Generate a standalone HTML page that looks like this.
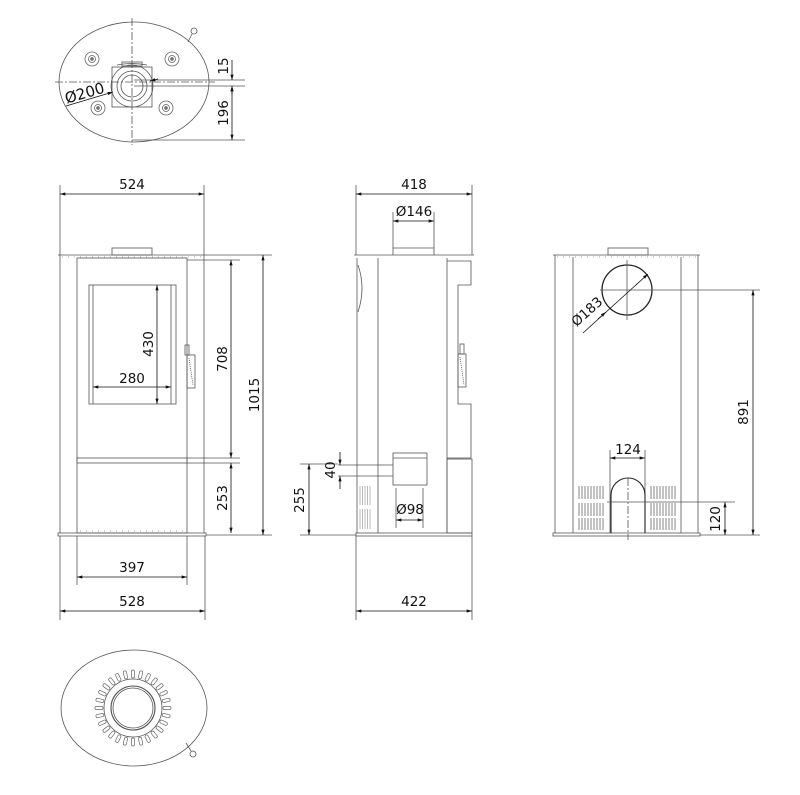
<!DOCTYPE html>
<html><head><meta charset="utf-8"><style>
html,body{margin:0;padding:0;background:#fff}
svg{display:block}
text{font-family:"DejaVu Sans","Liberation Sans",sans-serif;font-size:13.5px;fill:#111}
</style></head><body>
<svg width="800" height="795" viewBox="0 0 800 795" xmlns="http://www.w3.org/2000/svg">
<defs>
<marker id="a" viewBox="0 0 10 6" refX="10" refY="3" markerWidth="8" markerHeight="4" orient="auto-start-reverse"><path d="M0,0L10,3L0,6z" fill="#111"/></marker>
<rect id="slot" x="-1.6" y="-38" width="3.2" height="8" rx="1.6" fill="none" stroke="#666" stroke-width="0.7"/>
<g id="bolt"><circle r="7" fill="none" stroke="#666" stroke-width="0.8"/><circle r="3.5" fill="none" stroke="#666" stroke-width="0.8"/><circle r="1.3" fill="#888"/></g>
</defs>
<g fill="none" stroke="#555" stroke-width="0.8">

<!-- TOP VIEW -->
<ellipse cx="134" cy="82" rx="75" ry="60"/>
<line x1="188" y1="42" x2="192" y2="34"/><circle cx="194" cy="31" r="3"/>
<line x1="132" y1="18" x2="132" y2="145" stroke-dasharray="8,2,2,2"/>
<line x1="55" y1="82" x2="215" y2="82" stroke-dasharray="8,2,2,2"/>
<rect x="112" y="67" width="40" height="40"/>
<circle cx="132" cy="86" r="21"/><circle cx="132" cy="86" r="15"/><circle cx="132" cy="86" r="11"/>
<path d="M117,65 a30,10 0 0 1 30,0" />
<rect x="122" y="62" width="20" height="4"/>
<use href="#bolt" x="92" y="59"/><use href="#bolt" x="172" y="59"/>
<use href="#bolt" x="98" y="108"/><use href="#bolt" x="166" y="108"/>
<line x1="134" y1="80" x2="245" y2="80"/><line x1="134" y1="86" x2="245" y2="86"/>
<line x1="132" y1="140" x2="245" y2="140"/>
<line x1="232" y1="60" x2="232" y2="80" stroke="#111" marker-end="url(#a)"/>
<line x1="232" y1="86" x2="232" y2="94" stroke="#111" marker-start="url(#a)"/>
<line x1="232" y1="86" x2="232" y2="140" stroke="#111" marker-start="url(#a)" marker-end="url(#a)"/>
<line x1="66" y1="106" x2="113" y2="92" stroke="#111" marker-end="url(#a)"/>
<line x1="150" y1="81" x2="158" y2="79" stroke="#111" marker-start="url(#a)"/>

<!-- FRONT VIEW -->
<line x1="60" y1="185" x2="60" y2="255"/><line x1="204" y1="185" x2="204" y2="255"/>
<line x1="60" y1="194" x2="204" y2="194" stroke="#111" marker-start="url(#a)" marker-end="url(#a)"/>
<rect x="112" y="248" width="40" height="7"/>
<line x1="58" y1="255" x2="206" y2="255"/>
<line x1="62" y1="257" x2="202" y2="257" stroke-dasharray="1,5" stroke="#888"/>
<line x1="60" y1="255" x2="60" y2="533"/><line x1="204" y1="255" x2="204" y2="533"/>
<rect x="77" y="258" width="110" height="275"/>
<rect x="89" y="285" width="87" height="119"/>
<line x1="93" y1="285" x2="93" y2="404"/><line x1="171" y1="285" x2="171" y2="404"/>
<rect x="77" y="458" width="110" height="5"/>
<rect x="58" y="533" width="148" height="3"/>
<line x1="80" y1="531" x2="185" y2="531" stroke-dasharray="1,5" stroke="#888"/>
<rect x="185" y="345" width="4" height="10"/><rect x="187" y="355" width="8" height="33"/>
<line x1="189" y1="358" x2="193" y2="385" stroke-dasharray="1,1"/>
<line x1="157" y1="285" x2="157" y2="404" stroke="#111" marker-start="url(#a)" marker-end="url(#a)"/>
<line x1="93" y1="387" x2="171" y2="387" stroke="#111" marker-start="url(#a)" marker-end="url(#a)"/>
<line x1="187" y1="260" x2="240" y2="260"/><line x1="187" y1="458" x2="240" y2="458"/>
<line x1="187" y1="463" x2="240" y2="463"/><line x1="206" y1="535" x2="272" y2="535"/>
<line x1="206" y1="255" x2="272" y2="255"/>
<line x1="231" y1="260" x2="231" y2="458" stroke="#111" marker-start="url(#a)" marker-end="url(#a)"/>
<line x1="231" y1="463" x2="231" y2="533" stroke="#111" marker-start="url(#a)" marker-end="url(#a)"/>
<line x1="263" y1="255" x2="263" y2="535" stroke="#111" marker-start="url(#a)" marker-end="url(#a)"/>
<line x1="77" y1="536" x2="77" y2="585"/><line x1="187" y1="536" x2="187" y2="585"/>
<line x1="77" y1="577" x2="187" y2="577" stroke="#111" marker-start="url(#a)" marker-end="url(#a)"/>
<line x1="60" y1="536" x2="60" y2="620"/><line x1="205" y1="536" x2="205" y2="620"/>
<line x1="60" y1="611" x2="205" y2="611" stroke="#111" marker-start="url(#a)" marker-end="url(#a)"/>

<!-- SIDE VIEW -->
<line x1="356" y1="185" x2="356" y2="255"/><line x1="472" y1="185" x2="472" y2="255"/>
<line x1="356" y1="194" x2="472" y2="194" stroke="#111" marker-start="url(#a)" marker-end="url(#a)"/>
<line x1="393" y1="212" x2="393" y2="255"/><line x1="434" y1="212" x2="434" y2="255"/>
<line x1="393" y1="221" x2="434" y2="221" stroke="#111" marker-start="url(#a)" marker-end="url(#a)"/>
<line x1="393" y1="248" x2="434" y2="248"/>
<line x1="354" y1="255" x2="474" y2="255"/>
<line x1="357" y1="258" x2="357" y2="533"/>
<path d="M358,265 Q366,288 358,312"/>
<line x1="378" y1="258" x2="378" y2="533"/><line x1="447" y1="258" x2="447" y2="533"/>
<path d="M447,261 H471 V285 H458 V404 H471 V458 H447"/>
<rect x="447" y="459" width="25" height="74"/>
<rect x="460" y="344" width="4" height="10"/><rect x="458" y="354" width="8" height="33"/>
<line x1="460" y1="357" x2="464" y2="385" stroke-dasharray="1,1"/>
<rect x="393" y="453" width="34" height="32"/><line x1="393" y1="458" x2="427" y2="458"/>
<g stroke="#777" stroke-width="0.5"><path d="M360,486v19M362.5,486v19M365,486v19M367.5,486v19M370,486v19M360,509v20M362.5,509v20M365,509v20M367.5,509v20M370,509v20"/></g>
<rect x="356" y="533" width="116" height="3"/>
<line x1="338" y1="465" x2="393" y2="465"/><line x1="338" y1="476" x2="393" y2="476"/>
<line x1="340" y1="452" x2="340" y2="465" stroke="#111" marker-end="url(#a)"/>
<line x1="340" y1="489" x2="340" y2="476" stroke="#111" marker-end="url(#a)"/>
<line x1="300" y1="464" x2="338" y2="464"/><line x1="300" y1="535" x2="356" y2="535"/>
<line x1="309" y1="464" x2="309" y2="535" stroke="#111" marker-start="url(#a)" marker-end="url(#a)"/>
<line x1="396" y1="488" x2="396" y2="528"/><line x1="423" y1="488" x2="423" y2="528"/>
<line x1="396" y1="520" x2="423" y2="520" stroke="#111" marker-start="url(#a)" marker-end="url(#a)"/>
<line x1="356" y1="536" x2="356" y2="620"/><line x1="472" y1="536" x2="472" y2="620"/>
<line x1="356" y1="611" x2="472" y2="611" stroke="#111" marker-start="url(#a)" marker-end="url(#a)"/>

<!-- BACK VIEW -->
<rect x="608" y="248" width="40" height="7"/>
<line x1="553" y1="255" x2="700" y2="255"/>
<line x1="557" y1="257" x2="696" y2="257" stroke-dasharray="1,5" stroke="#888"/>
<line x1="555" y1="255" x2="555" y2="533"/><line x1="698" y1="255" x2="698" y2="533"/>
<line x1="573" y1="257" x2="573" y2="533"/><line x1="681" y1="257" x2="681" y2="533"/>
<rect x="553" y="533" width="147" height="3"/>
<circle cx="627" cy="290" r="25" stroke="#222" stroke-width="1.3"/>
<line x1="627" y1="260" x2="627" y2="320"/><line x1="600" y1="290" x2="760" y2="290"/>
<line x1="583" y1="333" x2="648" y2="274" stroke="#111" marker-end="url(#a)"/>
<line x1="606" y1="312" x2="598" y2="319" stroke="#111" marker-start="url(#a)"/>
<line x1="610" y1="450" x2="610" y2="533"/><line x1="645" y1="450" x2="645" y2="533"/>
<line x1="610" y1="458" x2="645" y2="458" stroke="#111" marker-start="url(#a)" marker-end="url(#a)"/>
<path d="M611,533 V495 A17,17 0 0 1 645,495 V533" stroke="#222" stroke-width="1.1"/>
<line x1="628" y1="478" x2="628" y2="540" stroke-dasharray="8,2,2,2"/>
<line x1="607" y1="502" x2="735" y2="502"/><line x1="700" y1="535" x2="760" y2="535"/>
<line x1="725" y1="502" x2="725" y2="535" stroke="#111" marker-start="url(#a)" marker-end="url(#a)"/>
<line x1="753" y1="290" x2="753" y2="535" stroke="#111" marker-start="url(#a)" marker-end="url(#a)"/>
<g stroke="#666">
<path d="M579,486v13M582,486v13M585,486v13M588,486v13M591,486v13M594,486v13M597,486v13M600,486v13M603,486v13"/>
<path d="M579,503v13M582,503v13M585,503v13M588,503v13M591,503v13M594,503v13M597,503v13M600,503v13M603,503v13"/>
<path d="M579,518v12M582,518v12M585,518v12M588,518v12M591,518v12M594,518v12M597,518v12M600,518v12M603,518v12"/>
<path d="M651,486v13M654,486v13M657,486v13M660,486v13M663,486v13M666,486v13M669,486v13M672,486v13M675,486v13"/>
<path d="M651,503v13M654,503v13M657,503v13M660,503v13M663,503v13M666,503v13M669,503v13M672,503v13M675,503v13"/>
<path d="M651,518v12M654,518v12M657,518v12M660,518v12M663,518v12M666,518v12M669,518v12M672,518v12M675,518v12"/>
</g>

<!-- BOTTOM VIEW -->
<ellipse cx="134" cy="708" rx="73" ry="58"/>
<line x1="186" y1="743" x2="191" y2="751"/><circle cx="193" cy="754" r="3"/>
<circle cx="133" cy="708" r="29"/><circle cx="133" cy="708" r="22" stroke-width="1.1"/><circle cx="133" cy="708" r="20"/>
<g transform="translate(133,708)">
<use href="#slot" transform="rotate(0)"/><use href="#slot" transform="rotate(12.86)"/><use href="#slot" transform="rotate(25.71)"/><use href="#slot" transform="rotate(38.57)"/><use href="#slot" transform="rotate(51.43)"/><use href="#slot" transform="rotate(64.29)"/><use href="#slot" transform="rotate(77.14)"/><use href="#slot" transform="rotate(90)"/><use href="#slot" transform="rotate(102.86)"/><use href="#slot" transform="rotate(115.71)"/><use href="#slot" transform="rotate(128.57)"/><use href="#slot" transform="rotate(141.43)"/><use href="#slot" transform="rotate(154.29)"/><use href="#slot" transform="rotate(167.14)"/><use href="#slot" transform="rotate(180)"/><use href="#slot" transform="rotate(192.86)"/><use href="#slot" transform="rotate(205.71)"/><use href="#slot" transform="rotate(218.57)"/><use href="#slot" transform="rotate(231.43)"/><use href="#slot" transform="rotate(244.29)"/><use href="#slot" transform="rotate(257.14)"/><use href="#slot" transform="rotate(270)"/><use href="#slot" transform="rotate(282.86)"/><use href="#slot" transform="rotate(295.71)"/><use href="#slot" transform="rotate(308.57)"/><use href="#slot" transform="rotate(321.43)"/><use href="#slot" transform="rotate(334.29)"/><use href="#slot" transform="rotate(347.14)"/>
</g>
</g>

<!-- LABELS -->
<text x="132" y="189" text-anchor="middle">524</text>
<text x="414" y="189" text-anchor="middle">418</text>
<text x="414" y="216" text-anchor="middle">Ø146</text>
<text x="132" y="383" text-anchor="middle">280</text>
<text transform="translate(153,344) rotate(-90)" text-anchor="middle">430</text>
<text transform="translate(227,359) rotate(-90)" text-anchor="middle">708</text>
<text transform="translate(227,498) rotate(-90)" text-anchor="middle">253</text>
<text transform="translate(259,395) rotate(-90)" text-anchor="middle">1015</text>
<text x="132" y="572" text-anchor="middle">397</text>
<text x="132" y="606" text-anchor="middle">528</text>
<text transform="translate(335,470) rotate(-90)" text-anchor="middle">40</text>
<text transform="translate(304,500) rotate(-90)" text-anchor="middle">255</text>
<text x="410" y="514" text-anchor="middle">Ø98</text>
<text x="414" y="606" text-anchor="middle">422</text>
<text x="628" y="454" text-anchor="middle">124</text>
<text transform="translate(720,519) rotate(-90)" text-anchor="middle">120</text>
<text transform="translate(748,412) rotate(-90)" text-anchor="middle">891</text>
<text transform="translate(590,315) rotate(-42)" text-anchor="middle">Ø183</text>
<text transform="translate(228,66) rotate(-90)" text-anchor="middle">15</text>
<text transform="translate(228,113) rotate(-90)" text-anchor="middle">196</text>
<text transform="translate(86,98) rotate(-16)" text-anchor="middle" style="font-size:15px">Ø200</text>
</svg>
</body></html>
